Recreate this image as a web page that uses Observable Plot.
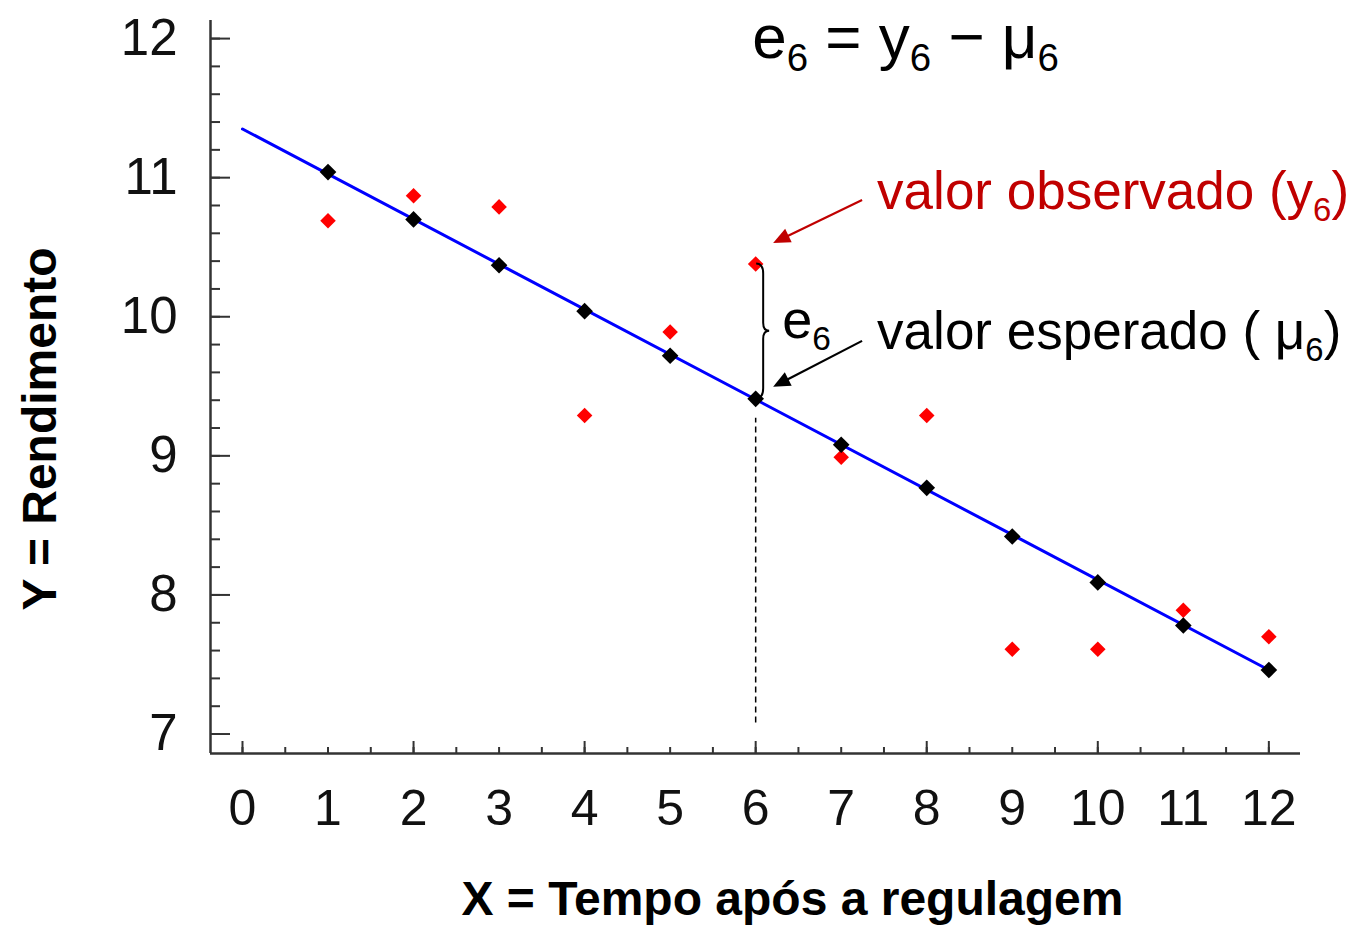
<!DOCTYPE html>
<html><head><meta charset="utf-8">
<script src="https://cdn.jsdelivr.net/npm/d3@7"></script>
<script src="https://cdn.jsdelivr.net/npm/@observablehq/plot@0.6"></script>
<style>
html,body{margin:0;padding:0;background:#fff;}
#chart{width:1358px;height:927px;}
svg{font-family:"Liberation Sans",Arial,sans-serif;}
</style></head><body><div id="chart"></div>
<script>
// ---- data ----
const xValues = [1, 2, 3, 4, 5, 6, 7, 8, 9, 10, 11, 12];
const expectedValues = [11.04, 10.70, 10.37, 10.04, 9.72, 9.41, 9.08, 8.77, 8.42, 8.09, 7.78, 7.46];
const observedValues = [10.69, 10.87, 10.79, 9.29, 9.89, 10.38, 8.99, 9.29, 7.61, 7.61, 7.89, 7.70];
const fitLineX = [0, 12];
const fitLineY = [11.35, 7.46];
const xTickLabels = [0, 1, 2, 3, 4, 5, 6, 7, 8, 9, 10, 11, 12];
const yTickLabels = [7, 8, 9, 10, 11, 12];
const xMajorTicks = [0, 2, 4, 6, 8, 10, 12];
const xMinorTicks = d3.range(0, 12.01, 0.5);
const yMinorTicks = d3.range(7, 12.01, 0.2);
const xDomain = [-0.374, 12.37];
const yDomain = [6.86, 12.13];
const highlightIndex = 5; // x = 6
const guideY = [7.08, 9.27];
const titleText = ["e{6} = y{6} − μ{6}"];
const titlePos = [5.96, 12.006];
const observedLabel = "valor observado (y{6})";
const expectedLabel = "valor esperado ( μ{6})";
const residualLabel = "e{6}";
const labelPosObserved = [7.42, 10.894];
const labelPosExpected = [7.42, 9.888];
const labelPosResidual = [6.31, 9.974];
const arrowObserved = [7.25, 10.836, 6.21, 10.527];
const arrowExpected = [7.25, 9.823, 6.21, 9.493];
const xAxisTitle = "X = Tempo após a regulagem";
const yAxisTitle = "Y = Rendimento";

const expected = xValues.map((x, i) => ({x, y: expectedValues[i]}));
const observed = xValues.map((x, i) => ({x, y: observedValues[i]}));
const fitLine = fitLineX.map((x, i) => ({x, y: fitLineY[i]}));

const font = "'Liberation Sans', Arial, sans-serif";
const axisColor = "#333";

function arrowsAndBrace(index, scales) {
  const {x, y} = scales;
  const g = d3.create("svg:g");
  const arrows = [
    {a: arrowObserved, color: "#c00000"},
    {a: arrowExpected, color: "#000"}
  ];
  for (const {a, color} of arrows) {
    const x1 = x(a[0]), y1 = y(a[1]), x2 = x(a[2]), y2 = y(a[3]);
    const len = Math.hypot(x2 - x1, y2 - y1);
    const ux = (x2 - x1) / len, uy = (y2 - y1) / len;
    const hl = 17, hw = 7.5;
    const bx = x2 - ux * hl, by = y2 - uy * hl;
    g.append("line").attr("x1", x1).attr("y1", y1).attr("x2", bx + ux * 2).attr("y2", by + uy * 2)
      .attr("stroke", color).attr("stroke-width", 2.2);
    g.append("path")
      .attr("d", `M${x2},${y2}L${bx - uy * hw},${by + ux * hw}L${bx + uy * hw},${by - ux * hw}Z`)
      .attr("fill", color);
  }
  // brace between observed and expected at x = 6
  const xp = x(xValues[highlightIndex]) + 8;
  const yt = y(observedValues[highlightIndex]);
  const yb = y(expectedValues[highlightIndex]);
  const ym = (yt + yb) / 2;
  g.append("path")
    .attr("d", `M${xp - 7},${yt} Q${xp},${yt} ${xp},${yt + 10} L${xp},${ym - 8} Q${xp},${ym} ${xp + 6},${ym} Q${xp},${ym} ${xp},${ym + 8} L${xp},${yb - 10} Q${xp},${yb} ${xp - 7},${yb}`)
    .attr("fill", "none").attr("stroke", "#000").attr("stroke-width", 2);
  return g.node();
}

const plot = Plot.plot({
  width: 1358,
  height: 927,
  marginLeft: 210,
  marginRight: 58,
  marginTop: 20,
  marginBottom: 174,
  style: {fontFamily: font, background: "#fff", overflow: "visible"},
  x: {domain: xDomain, axis: null},
  y: {domain: yDomain, axis: null},
  marks: [
    // axis lines
    Plot.ruleX([xDomain[0]], {stroke: axisColor, strokeWidth: 2.5}),
    Plot.ruleY([yDomain[0]], {stroke: axisColor, strokeWidth: 2.5}),
    // inward ticks
    Plot.axisY(yMinorTicks, {anchor: "left", tickSize: -10, text: null, stroke: axisColor, strokeWidth: 2, label: null}),
    Plot.axisY(yTickLabels, {anchor: "left", tickSize: -20, text: null, stroke: axisColor, strokeWidth: 2, label: null}),
    Plot.axisX(xMinorTicks, {anchor: "bottom", tickSize: -6, text: null, stroke: axisColor, strokeWidth: 2, label: null}),
    Plot.axisX(xMajorTicks, {anchor: "bottom", tickSize: -12, text: null, stroke: axisColor, strokeWidth: 2, label: null}),
    // tick labels
    Plot.axisY(yTickLabels, {anchor: "left", tickSize: 0, tickPadding: 33, fontSize: 51, fill: "#111", label: null, tickFormat: d => String(d)}),
    Plot.axisX(xTickLabels, {anchor: "bottom", tickSize: 0, tickPadding: 36, fontSize: 50, fill: "#111", label: null, tickFormat: d => String(d)}),
    // axis titles
    Plot.text([xAxisTitle], {frameAnchor: "bottom", text: d => d, textAnchor: "middle", dx: 37, dy: 161, fontSize: 48, fontWeight: "bold", fill: "#000"}),
    Plot.text([yAxisTitle], {frameAnchor: "left", text: d => d, textAnchor: "middle", dx: -170, dy: 42, rotate: -90, fontSize: 48, fontWeight: "bold", fill: "#000"}),
    // residual guide
    Plot.ruleX([xValues[highlightIndex]], {y1: guideY[0], y2: guideY[1], stroke: "#000", strokeWidth: 1.5, strokeDasharray: "6,4"}),
    // regression line and points
    Plot.line(fitLine, {x: "x", y: "y", stroke: "#0000ff", strokeWidth: 3}),
    Plot.dot(observed, {x: "x", y: "y", symbol: "diamond2", r: 7, fill: "#ff0000", stroke: null}),
    Plot.dot(expected, {x: "x", y: "y", symbol: "diamond2", r: 7.5, fill: "#000", stroke: null}),
    // annotations
    arrowsAndBrace,
    Plot.text(titleText, {x: titlePos[0], y: titlePos[1], text: d => d, textAnchor: "start", fontSize: 62, fill: "#000"}),
    Plot.text([observedLabel], {x: labelPosObserved[0], y: labelPosObserved[1], text: d => d, textAnchor: "start", fontSize: 53, fill: "#c00000"}),
    Plot.text([expectedLabel], {x: labelPosExpected[0], y: labelPosExpected[1], text: d => d, textAnchor: "start", fontSize: 53, fill: "#000"}),
    Plot.text([residualLabel], {x: labelPosResidual[0], y: labelPosResidual[1], text: d => d, textAnchor: "start", fontSize: 54, fill: "#000"})
  ]
});

document.getElementById("chart").appendChild(plot);

// subscripts: turn "{n}" into subscript tspans
d3.select(plot).selectAll("text").each(function() {
  const t = this.textContent;
  if (!t.includes("{")) return;
  const fs = parseFloat(getComputedStyle(this).fontSize) || 50;
  const parts = t.split(/(\{[^}]*\})/).filter(s => s.length);
  const sel = d3.select(this);
  sel.text(null);
  let shifted = false;
  for (const p of parts) {
    if (p.startsWith("{")) {
      sel.append("tspan").attr("font-size", fs * 0.62).attr("dy", fs * 0.22).text(p.slice(1, -1));
      shifted = true;
    } else {
      const ts = sel.append("tspan").text(p);
      if (shifted) { ts.attr("dy", -fs * 0.22); shifted = false; }
    }
  }
});
</script></body></html>
